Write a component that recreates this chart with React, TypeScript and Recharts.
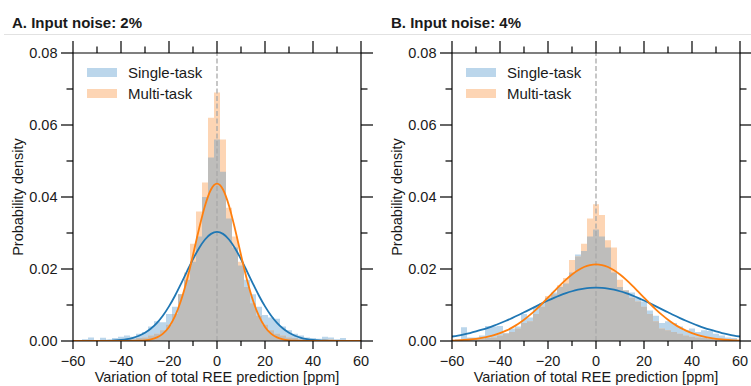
import React from 'react';
import { ComposedChart, Area, Line, XAxis, YAxis, ReferenceLine } from 'recharts';

// ---------- data ----------
const xTicks = [-60, -50, -40, -30, -20, -10, 0, 10, 20, 30, 40, 50, 60];
const yTicks = [0, 0.01, 0.02, 0.03, 0.04, 0.05, 0.06, 0.07, 0.08];

// Panel A (input noise 2%) histogram, bin width 2.5
const leftBinWidth = 2.5;
const leftCenters = [-55, -52.5, -50, -47.5, -45, -42.5, -40, -37.5, -35, -32.5, -30, -27.5, -25, -22.5, -20, -17.5, -15, -12.5, -10, -7.5, -5, -2.5, 0, 2.5, 5, 7.5, 10, 12.5, 15, 17.5, 20, 22.5, 25, 27.5, 30, 32.5, 35, 37.5, 40, 42.5, 45, 47.5, 50, 52.5, 55];
const leftSingle = [0.0005, 0.001, 0.0003, 0.0009, 0.0003, 0.0008, 0.0012, 0.0015, 0.0012, 0.002, 0.0025, 0.004, 0.0055, 0.0052, 0.0075, 0.0095, 0.013, 0.017, 0.022, 0.029, 0.04, 0.051, 0.056, 0.047, 0.034, 0.026, 0.021, 0.017, 0.013, 0.0095, 0.0072, 0.0065, 0.0062, 0.004, 0.003, 0.002, 0.0015, 0.001, 0.0008, 0.0006, 0.0012, 0.001, 0.0005, 0.0008, 0.0003];
const leftMulti = [0.0003, 0.0003, 0.0002, 0.0002, 0.0001, 0.0003, 0.0003, 0.0005, 0.0005, 0.0008, 0.001, 0.0015, 0.002, 0.003, 0.0045, 0.0075, 0.013, 0.019, 0.027, 0.036, 0.044, 0.062, 0.069, 0.056, 0.037, 0.029, 0.022, 0.015, 0.0105, 0.007, 0.0045, 0.003, 0.002, 0.0015, 0.001, 0.0008, 0.0005, 0.0004, 0.0003, 0.0003, 0.0005, 0.0004, 0.0003, 0.0002, 0.0002];

// Panel B (input noise 4%) histogram, bin width 2.5
const rightBinWidth = 2.5;
const rightCenters = [-57.5, -55, -52.5, -50, -47.5, -45, -42.5, -40, -37.5, -35, -32.5, -30, -27.5, -25, -22.5, -20, -17.5, -15, -12.5, -10, -7.5, -5, -2.5, 0, 2.5, 5, 7.5, 10, 12.5, 15, 17.5, 20, 22.5, 25, 27.5, 30, 32.5, 35, 37.5, 40, 42.5, 45, 47.5, 50, 52.5, 55, 57.5];
const rightSingle = [0.0005, 0.0038, 0.001, 0.001, 0.0015, 0.0042, 0.004, 0.0042, 0.0022, 0.0035, 0.004, 0.0075, 0.0065, 0.0095, 0.0105, 0.012, 0.0135, 0.015, 0.016, 0.019, 0.024, 0.025, 0.029, 0.031, 0.029, 0.026, 0.019, 0.015, 0.014, 0.0135, 0.012, 0.011, 0.0085, 0.007, 0.005, 0.0055, 0.005, 0.004, 0.003, 0.0035, 0.0025, 0.003, 0.0028, 0.002, 0.0015, 0.001, 0.0008];
const rightMulti = [0.0002, 0.0003, 0.0003, 0.0005, 0.0005, 0.0008, 0.001, 0.0015, 0.002, 0.0025, 0.0035, 0.005, 0.0055, 0.0075, 0.0095, 0.0125, 0.013, 0.0155, 0.0175, 0.0225, 0.0235, 0.027, 0.034, 0.038, 0.035, 0.028, 0.026, 0.017, 0.014, 0.012, 0.011, 0.0095, 0.0075, 0.0055, 0.0035, 0.003, 0.0025, 0.002, 0.0015, 0.0012, 0.001, 0.0008, 0.0006, 0.0005, 0.0004, 0.0003, 0.0002];

// Fitted density curves, read at x = -60 .. 60 step 2.5
const curveX = [-60, -57.5, -55, -52.5, -50, -47.5, -45, -42.5, -40, -37.5, -35, -32.5, -30, -27.5, -25, -22.5, -20, -17.5, -15, -12.5, -10, -7.5, -5, -2.5, 0, 2.5, 5, 7.5, 10, 12.5, 15, 17.5, 20, 22.5, 25, 27.5, 30, 32.5, 35, 37.5, 40, 42.5, 45, 47.5, 50, 52.5, 55, 57.5, 60];
const leftSingleCurve = [0, 0, 0, 0.00001, 0.00002, 0.00005, 0.00009, 0.00017, 0.00031, 0.00054, 0.0009, 0.00146, 0.00229, 0.00346, 0.00504, 0.00709, 0.00961, 0.01258, 0.01589, 0.01935, 0.02274, 0.02578, 0.0282, 0.02976, 0.0303, 0.02976, 0.0282, 0.02578, 0.02274, 0.01935, 0.01589, 0.01258, 0.00961, 0.00709, 0.00504, 0.00346, 0.00229, 0.00146, 0.0009, 0.00054, 0.00031, 0.00017, 0.00009, 0.00005, 0.00002, 0.00001, 0, 0, 0];
const leftMultiCurve = [0, 0, 0, 0, 0, 0, 0, 0, 0, 0.00001, 0.00003, 0.00007, 0.00019, 0.00045, 0.001, 0.00206, 0.0039, 0.00688, 0.01123, 0.01701, 0.02389, 0.03111, 0.03758, 0.04208, 0.0437, 0.04208, 0.03758, 0.03111, 0.02389, 0.01701, 0.01123, 0.00688, 0.0039, 0.00206, 0.001, 0.00045, 0.00019, 0.00007, 0.00003, 0.00001, 0, 0, 0, 0, 0, 0, 0, 0, 0];
const rightSingleCurve = [0.00124, 0.00152, 0.00185, 0.00222, 0.00265, 0.00313, 0.00367, 0.00427, 0.00492, 0.00562, 0.00637, 0.00715, 0.00797, 0.00879, 0.00963, 0.01045, 0.01124, 0.01199, 0.01268, 0.01329, 0.01382, 0.01424, 0.01455, 0.01474, 0.0148, 0.01474, 0.01455, 0.01424, 0.01382, 0.01329, 0.01268, 0.01199, 0.01124, 0.01045, 0.00963, 0.00879, 0.00797, 0.00715, 0.00637, 0.00562, 0.00492, 0.00427, 0.00367, 0.00313, 0.00265, 0.00222, 0.00185, 0.00152, 0.00124];
const rightMultiCurve = [0.00013, 0.00019, 0.00029, 0.00042, 0.0006, 0.00085, 0.00119, 0.00162, 0.00218, 0.00287, 0.00372, 0.00473, 0.00591, 0.00725, 0.00874, 0.01035, 0.01204, 0.01376, 0.01546, 0.01705, 0.01847, 0.01966, 0.02055, 0.02111, 0.0213, 0.02111, 0.02055, 0.01966, 0.01847, 0.01705, 0.01546, 0.01376, 0.01204, 0.01035, 0.00874, 0.00725, 0.00591, 0.00473, 0.00372, 0.00287, 0.00218, 0.00162, 0.00119, 0.00085, 0.0006, 0.00042, 0.00029, 0.00019, 0.00013];

const seriesNames = ['Single-task', 'Multi-task'];
const panelTitles = ['A. Input noise: 2%', 'B. Input noise: 4%'];
const xLabel = 'Variation of total REE prediction [ppm]';
const yLabel = 'Probability density';

// ---------- styles ----------
const FONT = '"Liberation Sans", Arial, Helvetica, sans-serif';
const BLUE = '#1f77b4';
const ORANGE = '#ff7f0e';
const BLUE_FILL = '#bbd6eb';
const ORANGE_FILL = '#fdd5b4';
const GRAY_FILL = '#bebdbb';
const TXT = '#1a1a1a';
const TICK_FS = 14.5;

function buildTable(centers: number[], single: number[], multi: number[], bw: number, cx: number[], cs: number[], cm: number[]) {
  const rows: any[] = [];
  centers.forEach((c, i) => {
    rows.push({ x: c - bw / 2, s: single[i], m: multi[i], g: Math.min(single[i], multi[i]) });
  });
  const L = centers.length - 1;
  rows.push({ x: centers[L] + bw / 2, s: single[L], m: multi[L], g: Math.min(single[L], multi[L]) });
  cx.forEach((x, i) => rows.push({ x, cs: cs[i], cm: cm[i] }));
  rows.sort((a, b) => a.x - b.x);
  return rows;
}

const fmtX = (v: number) => (v < 0 ? '\u2212' + Math.abs(v) : String(v));
const isMajorX = (v: number) => Math.round(v) % 20 === 0;
const isMajorY = (v: number) => Math.round(v * 100) % 2 === 0;

const BottomTick = (p: any) => {
  const { x, y, payload } = p;
  const v = payload.value;
  const major = isMajorX(v);
  return (
    <g>
      <line x1={x} x2={x} y1={y} y2={y + (major ? 8 : 5)} stroke="#000" strokeWidth={1.2} />
      {major && (
        <text x={x} y={y + 24.5} textAnchor="middle" fontSize={TICK_FS} fontFamily={FONT} fill={TXT}>
          {fmtX(v)}
        </text>
      )}
    </g>
  );
};
const TopTick = (p: any) => {
  const { x, y, payload } = p;
  const major = isMajorX(payload.value);
  return <line x1={x} x2={x} y1={y} y2={y - (major ? 12 : 6.5)} stroke="#000" strokeWidth={1.2} />;
};
const LeftTick = (p: any) => {
  const { x, y, payload } = p;
  const v = payload.value;
  const major = isMajorY(v);
  return (
    <g>
      <line x1={x - (major ? 12 : 6.5)} x2={x} y1={y} y2={y} stroke="#000" strokeWidth={1.2} />
      {major && (
        <text x={x - 15.5} y={y + 5} textAnchor="end" fontSize={TICK_FS} fontFamily={FONT} fill={TXT}>
          {v.toFixed(2)}
        </text>
      )}
    </g>
  );
};
const RightTick = (p: any) => {
  const { x, y, payload } = p;
  const major = isMajorY(payload.value);
  return <line x1={x} x2={x + (major ? 12 : 6.5)} y1={y} y2={y} stroke="#000" strokeWidth={1.2} />;
};

const axisLine = { stroke: '#000', strokeWidth: 1.2 };

function Panel({ data }: { data: any[] }) {
  return (
    <ComposedChart width={375} height={386} data={data} margin={{ top: 0, right: 0, bottom: 0, left: 0 }}>
      <XAxis
        dataKey="x"
        type="number"
        domain={[-60, 60]}
        ticks={xTicks}
        interval={0}
        allowDataOverflow
        height={45}
        tickSize={0}
        tickMargin={0}
        tickLine={false}
        axisLine={axisLine}
        tick={<BottomTick />}
        label={{ value: xLabel, position: 'insideBottom', offset: 4, fontSize: TICK_FS, fill: TXT, fontFamily: FONT }}
      />
      <XAxis
        xAxisId="top"
        orientation="top"
        dataKey="x"
        type="number"
        domain={[-60, 60]}
        ticks={xTicks}
        interval={0}
        allowDataOverflow
        height={53}
        tickSize={0}
        tickMargin={0}
        tickLine={false}
        axisLine={axisLine}
        tick={<TopTick />}
      />
      <YAxis
        type="number"
        domain={[0, 0.08]}
        ticks={yTicks}
        interval={0}
        allowDataOverflow
        width={73}
        tickSize={0}
        tickMargin={0}
        tickLine={false}
        axisLine={axisLine}
        tick={<LeftTick />}
      />
      <YAxis
        yAxisId="right"
        orientation="right"
        type="number"
        domain={[0, 0.08]}
        ticks={yTicks}
        interval={0}
        allowDataOverflow
        width={14}
        tickSize={0}
        tickMargin={0}
        tickLine={false}
        axisLine={axisLine}
        tick={<RightTick />}
      />
      <Area type="stepAfter" dataKey="s" stroke="none" fill={BLUE_FILL} fillOpacity={1} connectNulls dot={false} activeDot={false} isAnimationActive={false} />
      <Area type="stepAfter" dataKey="m" stroke="none" fill={ORANGE_FILL} fillOpacity={1} connectNulls dot={false} activeDot={false} isAnimationActive={false} />
      <Area type="stepAfter" dataKey="g" stroke="none" fill={GRAY_FILL} fillOpacity={1} connectNulls dot={false} activeDot={false} isAnimationActive={false} />
      <ReferenceLine x={0} stroke="#a9a9a9" strokeWidth={1.3} strokeDasharray="5 2.5" />
      <Line type="monotone" dataKey="cs" stroke={BLUE} strokeWidth={1.8} dot={false} activeDot={false} connectNulls isAnimationActive={false} />
      <Line type="monotone" dataKey="cm" stroke={ORANGE} strokeWidth={1.8} dot={false} activeDot={false} connectNulls isAnimationActive={false} />
    </ComposedChart>
  );
}

function Overlay() {
  const panels = [0, 379];
  return (
    <svg width={751} height={386} style={{ position: 'absolute', left: 0, top: 0, pointerEvents: 'none' }}>
      <line x1={4} x2={751} y1={34.5} y2={34.5} stroke="#e2e2e2" strokeWidth={1} />
      {panels.map((ox, i) => (
        <g key={i} fontFamily={FONT} fill={TXT}>
          <text x={ox + 12} y={28} fontSize={15} fontWeight="bold">{panelTitles[i]}</text>
          <text transform={`translate(${ox + 22.5},197) rotate(-90)`} textAnchor="middle" fontSize={TICK_FS}>{yLabel}</text>
          <rect x={ox + 87} y={68} width={30} height={9} fill={BLUE_FILL} />
          <text x={ox + 128} y={78} fontSize={15}>{seriesNames[0]}</text>
          <rect x={ox + 87} y={89} width={30} height={9} fill={ORANGE_FILL} />
          <text x={ox + 128} y={99} fontSize={15}>{seriesNames[1]}</text>
        </g>
      ))}
    </svg>
  );
}

export default function App() {
  const leftData = buildTable(leftCenters, leftSingle, leftMulti, leftBinWidth, curveX, leftSingleCurve, leftMultiCurve);
  const rightData = buildTable(rightCenters, rightSingle, rightMulti, rightBinWidth, curveX, rightSingleCurve, rightMultiCurve);
  return (
    <div style={{ position: 'absolute', left: 0, top: 0, width: 751, height: 386, overflow: 'hidden', background: '#fff', fontFamily: FONT }}>
      <div style={{ position: 'absolute', left: 0, top: 0 }}>
        <Panel data={leftData} />
      </div>
      <div style={{ position: 'absolute', left: 379, top: 0 }}>
        <Panel data={rightData} />
      </div>
      <Overlay />
    </div>
  );
}
